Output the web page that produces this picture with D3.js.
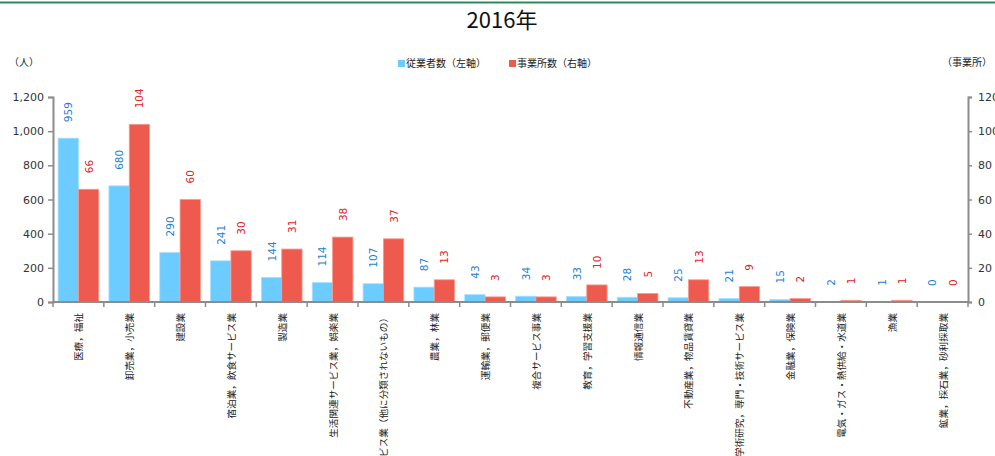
<!DOCTYPE html>
<html>
<head>
<meta charset="utf-8">
<script src="https://cdn.jsdelivr.net/npm/d3@7"></script>
<style>
  body { margin: 0; background: #fff; }
  text { font-family: "DejaVu Sans", sans-serif; }
  .jp { font-family: "Noto Sans CJK JP", sans-serif; }
</style>
</head>
<body>
<div id="container"></div>
<script>
/* DATA */
const categories = [
  "医療，福祉", "卸売業，小売業", "建設業", "宿泊業，飲食サービス業", "製造業",
  "生活関連サービス業，娯楽業", "サービス業（他に分類されないもの）", "農業，林業",
  "運輸業，郵便業", "複合サービス事業", "教育，学習支援業", "情報通信業",
  "不動産業，物品賃貸業", "学術研究，専門・技術サービス業", "金融業，保険業",
  "電気・ガス・熱供給・水道業", "漁業", "鉱業，採石業，砂利採取業"
];
const workers = [959, 680, 290, 241, 144, 114, 107, 87, 43, 34, 33, 28, 25, 21, 15, 2, 1, 0];
const offices = [66, 104, 60, 30, 31, 38, 37, 13, 3, 3, 10, 5, 13, 9, 2, 1, 1, 0];
const leftTicks = [0, 200, 400, 600, 800, 1000, 1200];
const rightTicks = [0, 20, 40, 60, 80, 100, 120];

/* CONSTANTS */
const width = 995;
const height = 456;
const plotLeft = 53, plotRight = 968, plotTop = 97, plotBottom = 302;
const blue = "#6cccff", red = "#ee5b4e";
const axisColor = "#8c8c8c";

const svg = d3.select("#container")
  .append("svg")
  .attr("width", width)
  .attr("height", height);

// green rule along the top
svg.append("rect")
  .attr("x", 0).attr("y", 1.5)
  .attr("width", width).attr("height", 2)
  .attr("fill", "#2a8c5c");

// title
svg.append("text")
  .attr("class", "jp")
  .attr("x", 502).attr("y", 28)
  .attr("text-anchor", "middle")
  .attr("font-size", 22)
  .attr("fill", "#111")
  .text("2016年");

/* SCALES */
const xScale = d3.scaleBand()
  .domain(categories)
  .range([plotLeft, plotRight])
  .paddingInner(0.2)
  .paddingOuter(0.1);

const xSub = d3.scaleBand()
  .domain(["w", "o"])
  .range([0, xScale.bandwidth()]);

const yLeft = d3.scaleLinear().domain([0, 1200]).range([plotBottom, plotTop]);
const yRight = d3.scaleLinear().domain([0, 120]).range([plotBottom, plotTop]);

/* AXES */
const gLeft = svg.append("g")
  .attr("transform", `translate(${plotLeft},0)`)
  .call(d3.axisLeft(yLeft).tickValues(leftTicks).tickSizeOuter(0).tickSize(5).tickPadding(4)
    .tickFormat(d3.format(",")));

const gRight = svg.append("g")
  .attr("transform", `translate(${plotRight},0)`)
  .call(d3.axisRight(yRight).tickValues(rightTicks).tickSizeOuter(0).tickSize(4).tickPadding(6));

[gLeft, gRight].forEach(g => {
  g.select(".domain").attr("stroke", axisColor).attr("stroke-width", 2);
  g.selectAll(".tick line").attr("stroke", axisColor).attr("stroke-width", 1.5);
  g.selectAll(".tick text")
    .attr("font-family", "DejaVu Sans")
    .attr("font-size", 11)
    .attr("fill", "#333");
});

/* BARS */
const groups = svg.selectAll(".cat")
  .data(categories)
  .join("g")
  .attr("class", "cat")
  .attr("transform", d => `translate(${xScale(d)},0)`);

groups.append("rect")
  .attr("x", xSub("w"))
  .attr("y", (d, i) => yLeft(workers[i]))
  .attr("width", xSub.bandwidth())
  .attr("height", (d, i) => plotBottom - yLeft(workers[i]))
  .attr("fill", blue)
  .attr("stroke", "#a8e0ff")
  .attr("stroke-width", 0.8);

groups.append("rect")
  .attr("x", xSub("o"))
  .attr("y", (d, i) => yRight(offices[i]))
  .attr("width", xSub.bandwidth())
  .attr("height", (d, i) => plotBottom - yRight(offices[i]))
  .attr("fill", red)
  .attr("stroke", "#f59a90")
  .attr("stroke-width", 0.8);

// value labels, rotated
groups.append("text")
  .attr("transform", (d, i) =>
    `translate(${xSub("w") + xSub.bandwidth() / 2},${yLeft(workers[i]) - 16}) rotate(-90)`)
  .attr("dominant-baseline", "central")
  .attr("font-size", 10.5)
  .attr("fill", "#1f80d2")
  .text((d, i) => workers[i]);

groups.append("text")
  .attr("transform", (d, i) =>
    `translate(${xSub("o") + xSub.bandwidth() / 2},${yRight(offices[i]) - 16}) rotate(-90)`)
  .attr("dominant-baseline", "central")
  .attr("font-size", 10.5)
  .attr("fill", "#e02424")
  .text((d, i) => offices[i]);

/* X AXIS */
svg.append("line")
  .attr("x1", plotLeft).attr("x2", plotRight)
  .attr("y1", plotBottom).attr("y2", plotBottom)
  .attr("stroke", axisColor).attr("stroke-width", 2);

const step = xScale.step();
svg.selectAll(".xtick")
  .data(d3.range(categories.length + 1))
  .join("line")
  .attr("x1", i => plotLeft + i * step)
  .attr("x2", i => plotLeft + i * step)
  .attr("y1", plotBottom)
  .attr("y2", plotBottom + 5)
  .attr("stroke", axisColor)
  .attr("stroke-width", 1.5);

svg.selectAll(".xlabel")
  .data(categories)
  .join("text")
  .attr("class", "jp")
  .attr("transform", d => `translate(${xScale(d) + xScale.bandwidth() / 2},313) rotate(-90)`)
  .attr("text-anchor", "end")
  .attr("dominant-baseline", "central")
  .attr("font-size", 9.6)
  .attr("fill", "#222")
  .text(d => d);

/* UNITS AND LEGEND */
svg.append("text")
  .attr("class", "jp")
  .attr("x", 9).attr("y", 66)
  .attr("font-size", 10)
  .attr("fill", "#222")
  .text("（人）");

svg.append("text")
  .attr("class", "jp")
  .attr("x", 992).attr("y", 66)
  .attr("text-anchor", "end")
  .attr("font-size", 10)
  .attr("fill", "#222")
  .text("（事業所）");

const legend = [
  { label: "従業者数（左軸）", color: blue, x: 398 },
  { label: "事業所数（右軸）", color: red, x: 509 }
];

const lg = svg.selectAll(".legend")
  .data(legend)
  .join("g")
  .attr("transform", d => `translate(${d.x},0)`);

lg.append("rect")
  .attr("x", 0).attr("y", 60)
  .attr("width", 7).attr("height", 7)
  .attr("fill", d => d.color);

lg.append("text")
  .attr("class", "jp")
  .attr("x", 8).attr("y", 67)
  .attr("font-size", 10)
  .attr("fill", "#222")
  .text(d => d.label);
</script>
</body>
</html>
